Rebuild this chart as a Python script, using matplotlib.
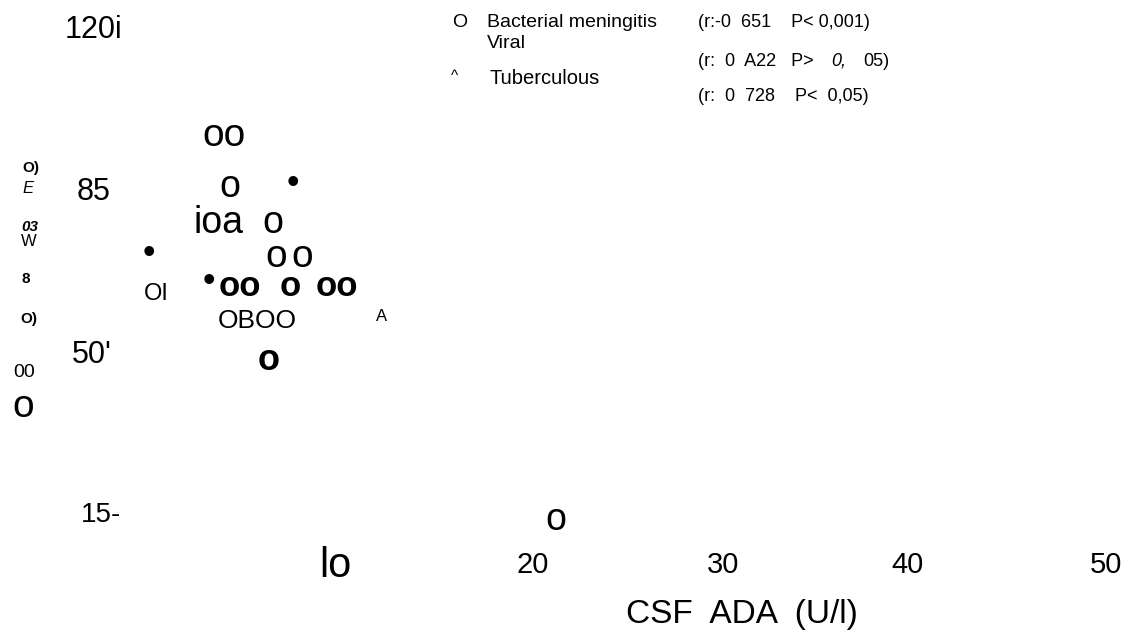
import matplotlib
matplotlib.use("Agg")
import matplotlib.pyplot as plt

plt.rcParams['font.family'] = ['Liberation Sans', 'DejaVu Sans']

# --- text ---
ytick_labels = ["120i", "85", "50'", "15-"]
xtick_labels = ["lo", "20", "30", "40", "50"]
xlabel = "CSF  ADA  (U/l)"
ylabel_bits = ["O)", "E", "03", "W", "8", "O)", "00", "o"]

legend_marks = ["O", "^"]
legend_names = ["Bacterial meningitis", "Viral", "Tuberculous"]
legend_stats = ["(r:-0  651    P< 0,001)", "(r:  0  A22   P>", "0,", "05)",
                "(r:  0  728    P<  0,05)"]

# scattered point glyphs (as they came out of the scan)
points = ["oo", "o", "\u2022", "ioa", "o", "\u2022", "o", "o", "OI",
          "\u2022", "oo", "o", "oo", "OBOO", "A", "o", "o"]

# --- layout (pixels: x left, y baseline, size, style) ---
ytick_pos = [(65, 38, 22), (77, 200, 22), (72, 363, 22), (81, 522, 20)]
xtick_pos = [(319, 577, 30), (517, 573, 21), (707, 573, 21),
             (891, 573, 21), (1090, 573, 21)]
xlabel_pos = (626, 623, 24)
ylabel_pos = [(22, 172, 11, 'bold', 'normal'), (22, 193, 12, 'normal', 'italic'),
              (21, 231, 11, 'bold', 'italic'), (21, 246, 12, 'normal', 'normal'),
              (21, 283, 11, 'bold', 'normal'), (20, 323, 11, 'bold', 'normal'),
              (13, 377, 14, 'normal', 'normal'), (12, 417, 28, 'normal', 'normal')]
legend_mark_pos = [(452, 27, 14), (451, 80, 11)]
legend_name_pos = [(487, 27, 14), (487, 48, 14), (490, 84, 14.5)]
legend_stat_pos = [(698, 27, 13, 'normal'), (698, 66, 13, 'normal'),
                   (831, 66, 13, 'italic'), (863, 66, 13, 'normal'),
                   (698, 101, 13, 'normal')]
point_pos = [(202, 146, 28, 'normal'), (219, 197, 27, 'normal'),
             (287, 193, 26, 'normal'), (193, 233, 27, 'normal'),
             (262, 233, 27, 'normal'), (143, 263, 26, 'normal'),
             (265, 267, 28, 'normal'), (291, 267, 28, 'normal'),
             (144, 300, 17, 'normal'),
             (203, 291, 26, 'normal'), (219, 296, 25, 'bold'),
             (280, 296, 25, 'bold'), (316, 296, 25, 'bold'),
             (218, 328, 19, 'normal'), (376, 321, 12, 'normal'),
             (258, 370, 26, 'bold'), (545, 530, 27, 'normal')]

W, H = 1131, 630
fig = plt.figure(figsize=(W / 100, H / 100), dpi=100)
ax = fig.add_axes([0, 0, 1, 1])
ax.set_xlim(0, W)
ax.set_ylim(H, 0)
ax.axis('off')


def put(s, x, y, size, weight='normal', style='normal'):
    ax.text(x, y, s, fontsize=size, fontweight=weight, fontstyle=style,
            ha='left', va='baseline', color='black')


for s, (x, y, fs) in zip(ytick_labels, ytick_pos):
    put(s, x, y, fs)
for s, (x, y, fs) in zip(xtick_labels, xtick_pos):
    put(s, x, y, fs)
put(xlabel, *xlabel_pos)
for s, (x, y, fs, w, st) in zip(ylabel_bits, ylabel_pos):
    put(s, x, y, fs, w, st)

for s, (x, y, fs) in zip(legend_marks, legend_mark_pos):
    put(s, x, y, fs)
for s, (x, y, fs) in zip(legend_names, legend_name_pos):
    put(s, x, y, fs)
for s, (x, y, fs, st) in zip(legend_stats, legend_stat_pos):
    put(s, x, y, fs, style=st)

for s, (x, y, fs, w) in zip(points, point_pos):
    put(s, x, y, fs, w)

fig.savefig('out.png', dpi=100, facecolor='white')
